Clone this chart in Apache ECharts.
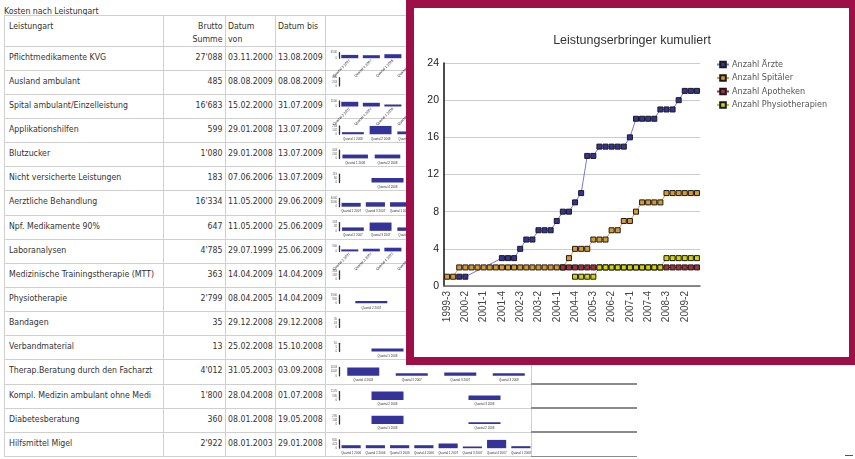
<!DOCTYPE html>
<html><head><meta charset="utf-8">
<script src="https://cdn.jsdelivr.net/npm/echarts@6/dist/echarts.min.js"></script>
<style>
body{margin:0;}
#page{position:relative;width:855px;height:459px;overflow:hidden;background:#fff;font-family:'Liberation Sans Narrow','DejaVu Sans Condensed','Liberation Sans',sans-serif;color:#333;font-size:8.7px;}
.t{position:absolute;white-space:nowrap;line-height:12px;height:12px;}
.r{text-align:right;}
.h{position:absolute;background:#cfcfcf;height:1px;}
.v{position:absolute;background:#cfcfcf;width:1px;}
#mini{position:absolute;left:0;top:0;width:855px;height:459px;}
#box{position:absolute;left:406px;top:0;width:435px;height:349px;border:8px solid #9c0f47;background:#fff;}
#main{position:absolute;left:0;top:0;width:855px;height:459px;}
</style></head>
<body>
<div id="page">
  <div id="table"></div>
  <div id="mini"></div>
  <div id="box"></div>
  <div id="main"></div>
</div>
<script>
// ---------- table data ----------
const tableTitle = 'Kosten nach Leistungart';
const leistungsarten = ['Pflichtmedikamente KVG','Ausland ambulant','Spital ambulant/Einzelleistung','Applikationshilfen','Blutzucker','Nicht versicherte Leistungen','Aerztliche Behandlung','Npf. Medikamente 90%','Laboranalysen','Medizinische Trainingstherapie (MTT)','Physiotherapie','Bandagen','Verbandmaterial','Therap.Beratung durch den Facharzt','Kompl. Medizin ambulant ohne Medi','Diabetesberatung','Hilfsmittel Migel'];
const bruttoSummen = ["27'088","485","16'683","599","1'080","183","16'334","647","4'785","363","2'799","35","13","4'012","1'800","360","2'922"];
const datumVon = ['03.11.2000','08.08.2009','15.02.2000','29.01.2008','29.01.2008','07.06.2006','11.05.2000','11.05.2000','29.07.1999','14.04.2009','08.04.2005','29.12.2008','25.02.2008','31.05.2003','28.04.2008','08.01.2008','08.01.2003'];
const datumBis = ['13.08.2009','08.08.2009','31.07.2009','13.07.2009','13.07.2009','13.07.2009','29.06.2009','25.06.2009','25.06.2009','14.04.2009','14.04.2009','29.12.2008','15.10.2008','03.09.2008','01.07.2008','19.05.2008','29.01.2008'];

// ---------- sparkline data (per row) ----------
const q9a = ['Quartal 3 2007','Quartal 4 2007','Quartal 1 2008','Quartal 2 2008','Quartal 3 2008','Quartal 4 2008','Quartal 1 2009','Quartal 2 2009','Quartal 3 2009'];
const q9b = ['Quartal 2 2007','Quartal 3 2007','Quartal 4 2007','Quartal 1 2008','Quartal 2 2008','Quartal 3 2008','Quartal 4 2008','Quartal 1 2009','Quartal 2 2009'];
const sparkQuarters = [
  q9a,
  ['Quartal 3 2009'],
  q9a,
  ['Quartal 1 2008','Quartal 2 2008','Quartal 3 2008','Quartal 4 2008','Quartal 1 2009','Quartal 2 2009','Quartal 3 2009'],
  ['Quartal 1 2008','Quartal 2 2008','Quartal 4 2008','Quartal 1 2009','Quartal 2 2009','Quartal 3 2009'],
  ['Quartal 4 2008','Quartal 3 2009'],
  ['Quartal 2 2007','Quartal 3 2007','Quartal 1 2008','Quartal 2 2008','Quartal 3 2008','Quartal 4 2008','Quartal 1 2009','Quartal 2 2009'],
  ['Quartal 2 2007','Quartal 3 2007','Quartal 1 2008','Quartal 3 2008','Quartal 4 2008','Quartal 1 2009','Quartal 2 2009'],
  q9b,
  ['Quartal 2 2009'],
  ['Quartal 2 2007','Quartal 4 2008','Quartal 2 2009'],
  ['Quartal 4 2008'],
  ['Quartal 1 2008','Quartal 4 2008'],
  ['Quartal 4 2003','Quartal 2 2007','Quartal 3 2007','Quartal 3 2008'],
  ['Quartal 2 2008','Quartal 3 2008'],
  ['Quartal 1 2008','Quartal 2 2008'],
  ['Quartal 1 2006','Quartal 2 2006','Quartal 3 2006','Quartal 4 2006','Quartal 1 2007','Quartal 3 2007','Quartal 4 2007','Quartal 1 2008']
];
const sparkValues = [
  [2700,2450,3270,3270,4500,3000,2900,2500,2500],
  [485],
  [2136,1682,909,1682,2500,2100,1900,2000,1774],
  [51,203,68,70,60,75,72],
  [186,186,403,120,95,90],
  [64,119],
  [1850,2150,2150,2000,2300,1600,4000,284],
  [67,163,67,90,85,95,80],
  [327,442,605,704,900,500,480,450,377],
  [363],
  [546,1900,353],
  [35],
  [3.5,9.5],
  [2003,620,800,589],
  [1170,630],
  [295,65],
  [305,305,305,305,478,173,845,204]
];
const sparkRotated = [true,false,true,false,false,false,false,false,true,false,false,false,false,false,false,false,false];

// ---------- main chart data ----------
const chartTitle = 'Leistungserbringer kumuliert';
const quarters = ['1999-3','1999-4','2000-1','2000-2','2000-3','2000-4','2001-1','2001-2','2001-3','2001-4','2002-1','2002-2','2002-3','2002-4','2003-1','2003-2','2003-3','2003-4','2004-1','2004-2','2004-3','2004-4','2005-1','2005-2','2005-3','2005-4','2006-1','2006-2','2006-3','2006-4','2007-1','2007-2','2007-3','2007-4','2008-1','2008-2','2008-3','2008-4','2009-1','2009-2','2009-3','2009-4'];
const anzahlAerzte = [null,null,1,1,null,null,null,null,null,3,3,3,4,5,5,6,6,6,7,8,8,9,10,14,14,15,15,15,15,15,16,18,18,18,18,19,19,19,20,21,21,21];
const anzahlSpitaeler = [1,1,2,2,2,2,2,2,2,2,2,2,2,2,2,2,2,2,2,2,3,4,4,4,5,5,5,6,6,7,7,8,9,9,9,9,10,10,10,10,10,10];
const anzahlApotheken = [null,null,null,null,null,null,null,null,null,null,null,null,null,null,null,null,null,null,null,2,2,2,2,2,2,2,2,2,2,2,2,2,2,2,2,2,2,2,2,2,2,2];
const anzahlPhysio = [null,null,null,null,null,null,null,null,null,null,null,null,null,null,null,null,null,null,null,null,null,1,1,1,1,2,2,2,2,2,2,2,2,2,2,2,3,3,3,3,3,3];

// ---------- build table (HTML text) ----------
const tbl = document.getElementById('table');
function add(cls, style, text) {
  const d = document.createElement('div');
  d.className = cls; d.style.cssText = style;
  if (text !== undefined) d.textContent = text;
  tbl.appendChild(d);
}
const rowH = 24.15, headTop = 15, headBottom = 45.5;
const colX = [4, 163, 225, 275, 325, 531];
add('t', 'left:4px;top:4.5px;', tableTitle);
add('t', 'left:9px;top:19.5px;', 'Leistungart');
add('t r', 'left:163px;width:59.5px;top:19.5px;', 'Brutto');
add('t r', 'left:163px;width:59.5px;top:33px;', 'Summe');
add('t', 'left:228px;top:19.5px;', 'Datum');
add('t', 'left:228px;top:33px;', 'von');
add('t', 'left:278px;top:19.5px;', 'Datum bis');
const nRows = leistungsarten.length;
const tableBottom = headBottom + nRows * rowH;
add('h', `left:4px;width:527px;top:${headTop}px;`);
for (let k = 0; k <= nRows; k++) {
  add('h', `left:4px;width:527px;top:${(headBottom + k * rowH).toFixed(1)}px;`);
}
colX.forEach(x => add('v', `left:${x}px;top:${headTop}px;height:${(tableBottom - headTop).toFixed(1)}px;`));
for (let k = 0; k < nRows; k++) {
  const top = (headBottom + k * rowH + 5).toFixed(1);
  add('t', `left:9px;top:${top}px;`, leistungsarten[k]);
  add('t r', `left:163px;width:59.5px;top:${top}px;`, bruttoSummen[k]);
  add('t', `left:228px;top:${top}px;`, datumVon[k]);
  add('t', `left:278px;top:${top}px;`, datumBis[k]);
}
// darker separators to the right of the table (next column)
for (let k = 14; k <= 17; k++) {
  add('h', `left:531px;width:106px;height:1.5px;background:#8a8a8a;top:${(headBottom + k * rowH - 0.5).toFixed(1)}px;`);
}
add('h', 'left:845px;width:8px;height:1.5px;background:#555;top:454.5px;');

// ---------- sparkline mini charts ----------
const mini = echarts.init(document.getElementById('mini'), null, {renderer: 'canvas'});
const grids = [], xAxes = [], yAxes = [], miniSeries = [];
for (let k = 0; k < nRows; k++) {
  const rot = sparkRotated[k];
  const rowTop = headBottom + k * rowH;
  const h = rot ? 5.5 : 8.3;
  const base = rowTop + (rot ? 12.7 : 16.3);
  const mx = Math.max(...sparkValues[k]);
  grids.push({left: 339, top: base - h, width: 194, height: h});
  xAxes.push({type: 'category', gridIndex: k, data: sparkQuarters[k],
    axisLine: {show: false}, axisTick: {show: false},
    axisLabel: {fontSize: rot ? 3.5 : 3, color: '#333', margin: rot ? 2 : 3, interval: 0, rotate: rot ? 45 : 0, fontFamily: 'Liberation Sans'}});
  yAxes.push({type: 'value', gridIndex: k, min: 0, max: mx, interval: rot ? mx : mx / 2,
    axisLine: {show: true, lineStyle: {color: '#333', width: 1.3}}, axisTick: {show: false},
    splitLine: {show: false},
    axisLabel: {fontSize: 2.8, margin: 2, color: '#555', formatter: v => Math.round(v)}});
  miniSeries.push({type: 'bar', xAxisIndex: k, yAxisIndex: k, data: sparkValues[k],
    barCategoryGap: '21%', barMaxWidth: 32, itemStyle: {color: '#333399'}, silent: true});
}
mini.setOption({animation: false, grid: grids, xAxis: xAxes, yAxis: yAxes, series: miniSeries});

// ---------- main line chart ----------
const main = echarts.init(document.getElementById('main'), null, {renderer: 'canvas'});
function lineSeries(name, data, fill, line) {
  return {name, type: 'line', data, connectNulls: true, showAllSymbol: true, symbol: 'rect', symbolSize: 5,
    itemStyle: {color: fill, borderColor: '#1a1a1a', borderWidth: 1},
    lineStyle: {color: line, width: 1}, emphasis: {disabled: true}, silent: true};
}
main.setOption({
  animation: false,
  title: {text: chartTitle, left: 627, top: 29, textAlign: 'center',
    textStyle: {fontSize: 12.5, fontWeight: 'normal', color: '#333', fontFamily: 'Liberation Sans'}},
  legend: {orient: 'vertical', left: 711, top: 55, itemWidth: 12, itemHeight: 7, itemGap: 4.5,
    textStyle: {fontSize: 9, color: '#555', fontFamily: "'Liberation Sans Narrow','DejaVu Sans Condensed',sans-serif", padding: [0,0,0,-2]},
    data: ['Anzahl Ärzte','Anzahl Spitäler','Anzahl Apotheken','Anzahl Physiotherapien']},
  grid: {left: 444, top: 63, width: 256, height: 223},
  xAxis: {type: 'category', data: quarters, boundaryGap: true,
    axisLine: {lineStyle: {color: '#666', width: 1.5}}, axisTick: {show: false},
    axisLabel: {rotate: 90, interval: 2, fontSize: 10, color: '#444', margin: 5, fontFamily: 'Liberation Sans'}},
  yAxis: {type: 'value', min: 0, max: 24, interval: 4,
    axisLine: {show: true, lineStyle: {color: '#111', width: 1.5}}, axisTick: {show: false},
    splitLine: {lineStyle: {color: '#cccccc', width: 1}},
    axisLabel: {fontSize: 10.5, color: '#222', margin: 5, fontFamily: 'Liberation Sans'}},
  series: [
    lineSeries('Anzahl Ärzte', anzahlAerzte, '#333399', '#7a7ad0'),
    lineSeries('Anzahl Spitäler', anzahlSpitaeler, '#d9992f', '#e0a040'),
    lineSeries('Anzahl Apotheken', anzahlApotheken, '#a3303a', '#a3303a'),
    lineSeries('Anzahl Physiotherapien', anzahlPhysio, '#d4d400', '#c8c830')
  ]
});
</script>
</body></html>
